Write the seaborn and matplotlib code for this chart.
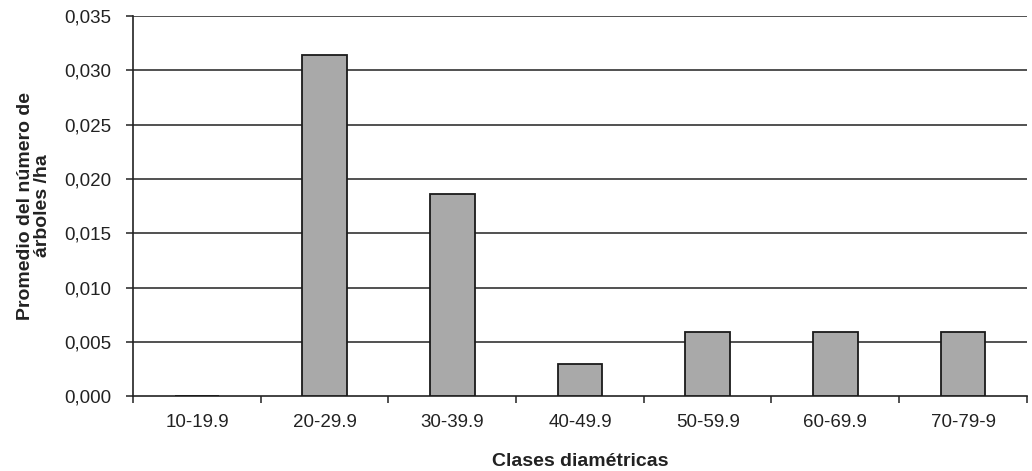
import matplotlib
matplotlib.use("Agg")
import matplotlib.pyplot as plt
from matplotlib.ticker import FixedLocator, FuncFormatter
import seaborn as sns
import pandas as pd
import numpy as np

# Diameter classes and mean number of trees per hectare
clases = ["10-19.9", "20-29.9", "30-39.9", "40-49.9", "50-59.9", "60-69.9", "70-79-9"]
promedio = [0.0, 0.0314, 0.0186, 0.003, 0.0059, 0.0059, 0.0059]
yticks = [0.000, 0.005, 0.010, 0.015, 0.020, 0.025, 0.030, 0.035]

sns.set_theme(style="white")
plt.rcParams["font.family"] = ["Liberation Sans", "DejaVu Sans"]

df = pd.DataFrame({"clase": clases, "promedio": promedio})

fig = plt.figure(figsize=(10.32, 4.71), dpi=100)
ax = fig.add_axes([0.129, 0.159, 0.866, 0.807])

sns.barplot(data=df, x="clase", y="promedio", color="#a9a9a9", width=0.35,
            edgecolor="#1a1a1a", linewidth=1.3, saturation=1, ax=ax, zorder=3)

ax.set_ylim(0, 0.035)
ax.set_xlim(-0.5, len(clases) - 0.5)
ax.set_yticks(yticks)
ax.yaxis.set_major_formatter(FuncFormatter(lambda v, p: f"{v:.3f}".replace(".", ",")))
for y in yticks[1:]:
    ax.axhline(y, color="#222222", linewidth=1.1, zorder=1)

# tick marks sit on category boundaries, labels at centres
ax.xaxis.set_minor_locator(FixedLocator(np.arange(-0.5, len(clases), 1.0)))
ax.tick_params(axis="x", which="major", length=0, pad=13, labelsize=13.5, colors="#222222")
ax.tick_params(axis="x", which="minor", bottom=True, length=5, width=1.1, color="#222222")
ax.tick_params(axis="y", which="major", left=True, length=5, width=1.1, color="#222222",
               labelsize=13.5, labelcolor="#222222", pad=11)

for side in ["top", "right"]:
    ax.spines[side].set_visible(False)
for side in ["left", "bottom"]:
    ax.spines[side].set_color("#222222")
    ax.spines[side].set_linewidth(1.2)

ax.set_xlabel("Clases diamétricas", fontsize=14, fontweight="bold", labelpad=16, color="#222222")
ax.set_ylabel("Promedio del número de\nárboles /ha", fontsize=14, fontweight="bold",
              labelpad=9, color="#222222", linespacing=1.05)

fig.savefig("out.png", dpi=100, facecolor="white")
